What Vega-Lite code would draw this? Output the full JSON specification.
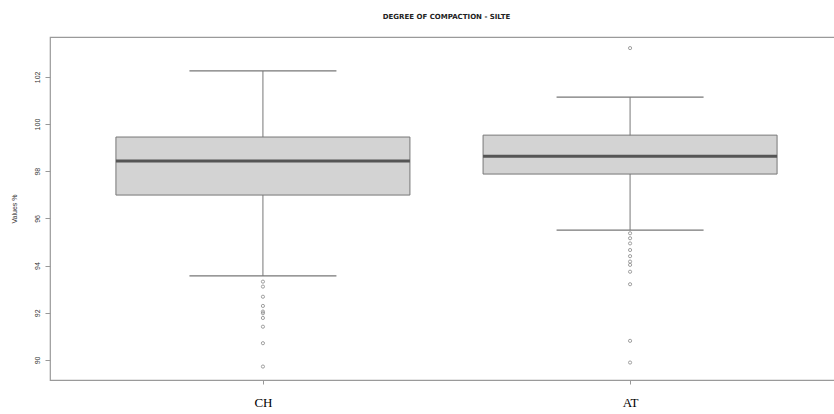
{
  "$schema": "https://vega.github.io/schema/vega-lite/v6.json",
  "autosize": {"type": "none"},
  "padding": {"left": 50, "top": 37, "right": 0, "bottom": 34},
  "width": 793,
  "height": 343,
  "background": "white",
  "view": {"stroke": "#9a9a9a", "strokeWidth": 1.2},
  "title": {"text": "DEGREE OF COMPACTION - SILTE", "fontSize": 7, "fontWeight": "bold", "font": "DejaVu Sans", "color": "#222", "offset": 17, "anchor": "middle"},
  "datasets": {
    "stats": [
      {"group": "CH", "lower": 93.56, "q1": 96.99, "median": 98.43, "q3": 99.45, "upper": 102.25},
      {"group": "AT", "lower": 95.5, "q1": 97.88, "median": 98.64, "q3": 99.53, "upper": 101.14}
    ],
    "outliers": [
      {"group": "CH", "value": 93.32},
      {"group": "CH", "value": 93.11},
      {"group": "CH", "value": 92.68},
      {"group": "CH", "value": 92.29},
      {"group": "CH", "value": 92.05},
      {"group": "CH", "value": 91.98},
      {"group": "CH", "value": 91.78},
      {"group": "CH", "value": 91.41},
      {"group": "CH", "value": 90.71},
      {"group": "CH", "value": 89.72},
      {"group": "AT", "value": 103.22},
      {"group": "AT", "value": 95.37},
      {"group": "AT", "value": 95.16},
      {"group": "AT", "value": 94.94},
      {"group": "AT", "value": 94.66},
      {"group": "AT", "value": 94.4},
      {"group": "AT", "value": 94.17},
      {"group": "AT", "value": 94.03},
      {"group": "AT", "value": 93.74},
      {"group": "AT", "value": 93.21},
      {"group": "AT", "value": 90.81},
      {"group": "AT", "value": 89.89}
    ]
  },
  "encoding": {
    "x": {
      "field": "group", "type": "nominal", "sort": ["CH", "AT"],
      "scale": {"type": "point", "padding": 0.58},
      "axis": {"title": null, "labelAngle": 0, "labelFont": "Liberation Serif", "labelFontSize": 13, "labelColor": "#000", "tickSize": 4, "tickColor": "#999", "domain": false, "labelPadding": 12}
    }
  },
  "layer": [
    {
      "data": {"name": "stats"},
      "mark": {"type": "rule", "color": "#777", "strokeWidth": 1},
      "encoding": {
        "y": {"field": "lower", "type": "quantitative",
          "scale": {"domain": [89.15, 103.69], "nice": false, "zero": false},
          "axis": {"values": [90, 92, 94, 96, 98, 100, 102], "labelAngle": -90, "labelAlign": "center", "labelBaseline": "bottom", "labelFontSize": 7, "labelColor": "#333", "tickSize": 5, "tickColor": "#999", "domain": false, "grid": false, "title": "Values %", "titleFontSize": 7, "titleFontWeight": "normal", "titleColor": "#333", "labelPadding": 5, "titlePadding": 16}},
        "y2": {"field": "upper"}
      }
    },
    {
      "data": {"name": "stats"},
      "mark": {"type": "bar", "size": 294, "fill": "#d3d3d3", "stroke": "#777", "strokeWidth": 1},
      "encoding": {
        "y": {"field": "q1", "type": "quantitative"},
        "y2": {"field": "q3"}
      }
    },
    {
      "data": {"name": "stats"},
      "mark": {"type": "tick", "size": 294, "thickness": 3, "color": "#555", "opacity": 1},
      "encoding": {"y": {"field": "median", "type": "quantitative"}}
    },
    {
      "data": {"name": "stats"},
      "mark": {"type": "tick", "size": 147, "thickness": 1.2, "color": "#777", "opacity": 1},
      "encoding": {"y": {"field": "upper", "type": "quantitative"}}
    },
    {
      "data": {"name": "stats"},
      "mark": {"type": "tick", "size": 147, "thickness": 1.2, "color": "#777", "opacity": 1},
      "encoding": {"y": {"field": "lower", "type": "quantitative"}}
    },
    {
      "data": {"name": "outliers"},
      "mark": {"type": "point", "shape": "circle", "filled": false, "size": 10, "stroke": "#888", "strokeWidth": 0.8, "opacity": 1},
      "encoding": {"y": {"field": "value", "type": "quantitative"}}
    }
  ]
}
